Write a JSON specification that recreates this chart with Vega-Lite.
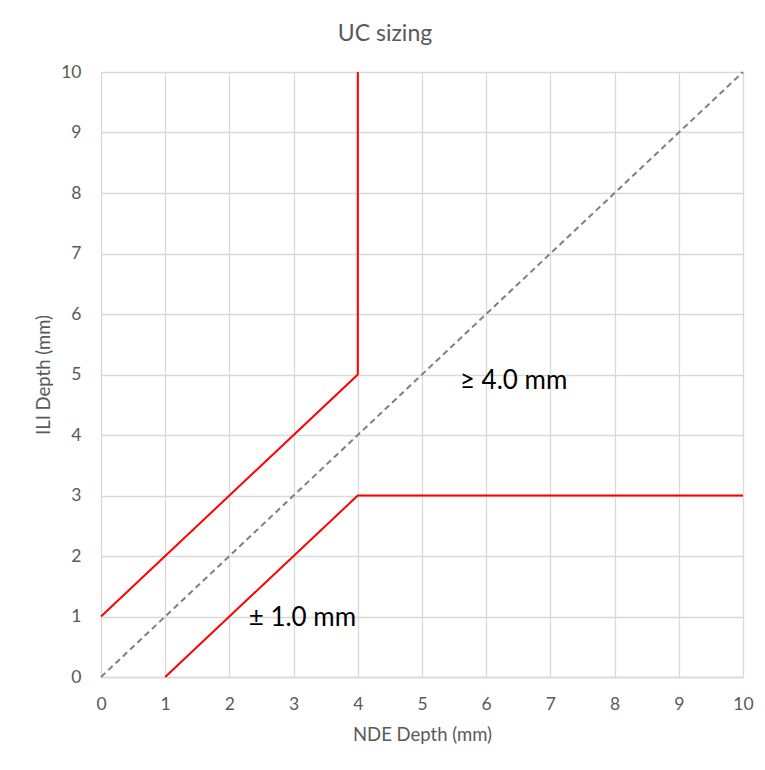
{
  "$schema": "https://vega.github.io/schema/vega-lite/v6.json",
  "autosize": {"type": "none"},
  "width": 642,
  "height": 605,
  "padding": {"left": 101, "top": 72, "right": 22, "bottom": 93},
  "background": "white",
  "title": {"text": "UC sizing", "fontSize": 23, "font": "Lato", "fontWeight": "normal", "color": "#595959", "anchor": "middle", "offset": 17, "dx": -37},
  "config": {
    "font": "Lato",
    "view": {"stroke": null},
    "axis": {"gridColor": "#d9d9d9", "gridWidth": 1.3, "ticks": false, "labelColor": "#595959", "titleColor": "#595959", "labelFontSize": 17.5, "titleFontSize": 18.5, "titleFontWeight": "normal", "domainColor": "#d9d9d9", "domainWidth": 1.3, "format": "d"}
  },
  "datasets": {
    "lines": [
      {"series": "upper", "x": 0, "y": 1, "o": 1},
      {"series": "upper", "x": 4, "y": 5, "o": 2},
      {"series": "upper", "x": 4, "y": 10, "o": 3},
      {"series": "lower", "x": 1, "y": 0, "o": 1},
      {"series": "lower", "x": 4, "y": 3, "o": 2},
      {"series": "lower", "x": 10, "y": 3, "o": 3}
    ],
    "diag": [
      {"x": 0, "y": 0},
      {"x": 10, "y": 10}
    ],
    "labels": [
      {"x": 5.59, "y": 4.9, "text": "≥ 4.0 mm"},
      {"x": 2.3, "y": 0.97, "text": "± 1.0 mm"}
    ]
  },
  "layer": [
    {
      "data": {"name": "diag"},
      "mark": {"type": "line", "color": "#7f7f7f", "strokeWidth": 2, "strokeDash": [6, 4]},
      "encoding": {
        "x": {"field": "x", "type": "quantitative", "scale": {"domain": [0, 10], "nice": false}, "axis": {"values": [0,1,2,3,4,5,6,7,8,9,10], "format": "d", "title": "NDE Depth (mm)", "labelPadding": 18, "titlePadding": 13, "labelFlush": false}},
        "y": {"field": "y", "type": "quantitative", "scale": {"domain": [0, 10], "nice": false}, "axis": {"values": [0,1,2,3,4,5,6,7,8,9,10], "format": "d", "title": "ILI Depth (mm)", "labelPadding": 20, "titlePadding": 7, "labelFlush": false, "domain": false}}
      }
    },
    {
      "data": {"name": "lines"},
      "mark": {"type": "line", "color": "#ff0000", "strokeWidth": 2},
      "encoding": {
        "x": {"field": "x", "type": "quantitative"},
        "y": {"field": "y", "type": "quantitative"},
        "detail": {"field": "series"},
        "order": {"field": "o"}
      }
    },
    {
      "data": {"name": "labels"},
      "mark": {"type": "text", "align": "left", "baseline": "middle", "fontSize": 26, "color": "#000000", "font": "Lato"},
      "encoding": {
        "x": {"field": "x", "type": "quantitative"},
        "y": {"field": "y", "type": "quantitative"},
        "text": {"field": "text"}
      }
    }
  ]
}
